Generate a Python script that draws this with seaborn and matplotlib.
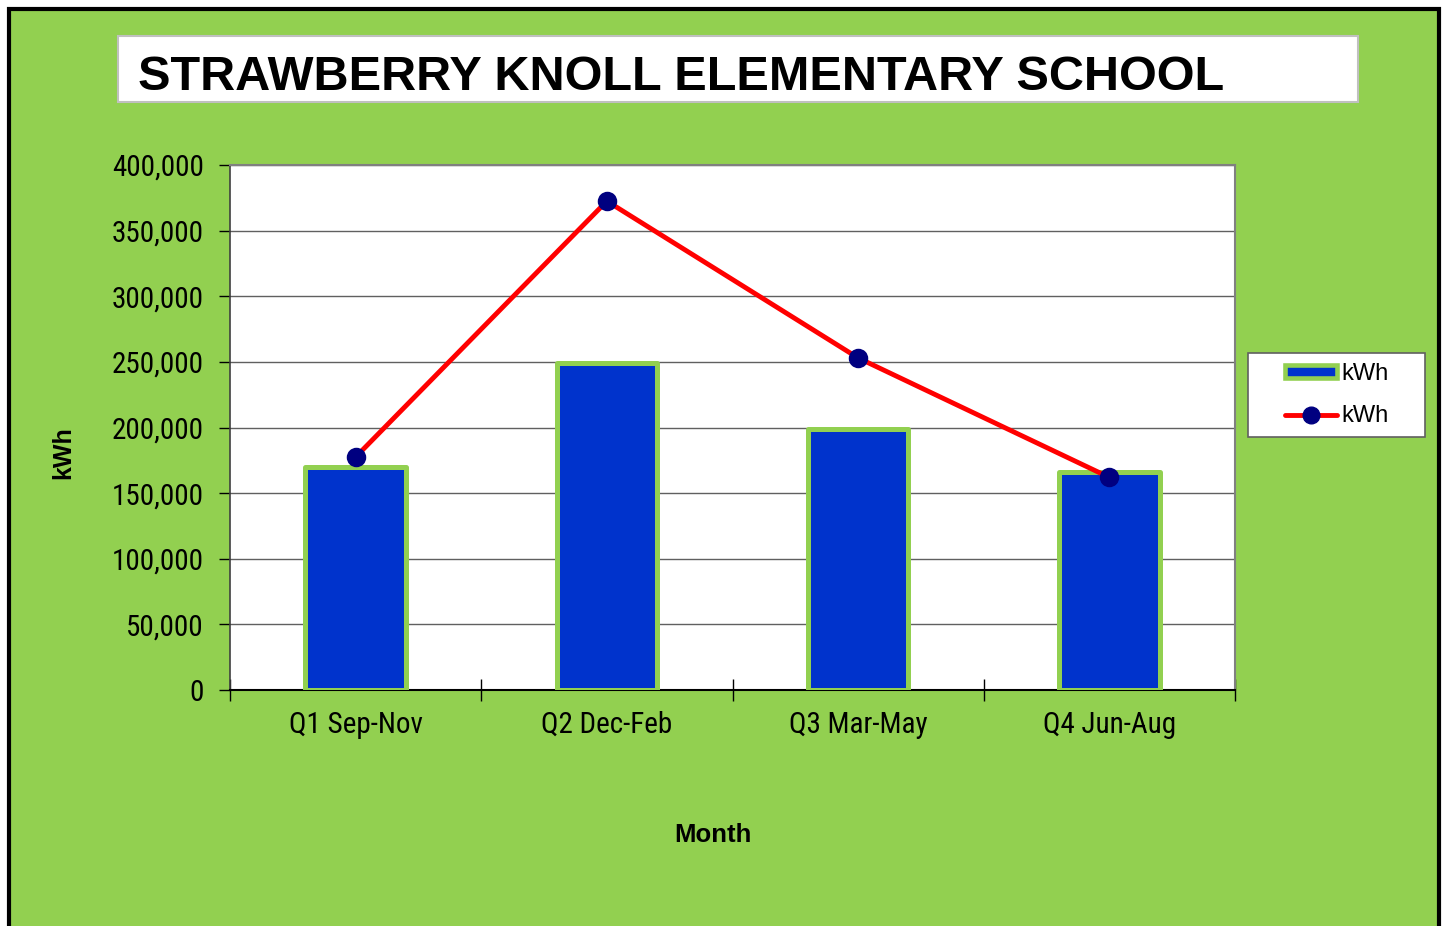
import matplotlib
matplotlib.use("Agg")
import matplotlib.pyplot as plt
import seaborn as sns
import pandas as pd
from matplotlib import font_manager
from matplotlib.patches import Rectangle, Patch
from matplotlib.lines import Line2D
from matplotlib.ticker import FuncFormatter, FixedLocator

# ---- data ----
quarters = ["Q1 Sep-Nov", "Q2 Dec-Feb", "Q3 Mar-May", "Q4 Jun-Aug"]
bar_kwh = [170000, 249000, 199000, 166000]
line_kwh = [177500, 372500, 253000, 162000]
y_ticks = [0, 50000, 100000, 150000, 200000, 250000, 300000, 350000, 400000]
title_text = "STRAWBERRY KNOLL ELEMENTARY SCHOOL"

GREEN = "#92D050"
BLUE = "#0033CC"
RED = "#FF0000"
NAVY = "#000080"

sns.set_theme(style="white")
plt.rcParams["font.family"] = ["Liberation Sans", "DejaVu Sans"]
plt.rcParams["text.color"] = "black"
plt.rcParams["xtick.color"] = "black"
plt.rcParams["ytick.color"] = "black"

# pick a condensed face for tick labels if one is available
installed = {f.name for f in font_manager.fontManager.ttflist}
narrow_face = None
for cand in ["Liberation Sans Narrow", "Arial Narrow", "Roboto Condensed",
             "Open Sans Condensed", "DejaVu Sans Condensed"]:
    if cand in installed:
        narrow_face = cand
        break
if narrow_face:
    TICK_FAMILY = [narrow_face, "Liberation Sans", "DejaVu Sans"]
    TICK_SIZE = 21
    TICK_STRETCH = "condensed" if narrow_face == "DejaVu Sans Condensed" else "normal"
else:
    TICK_FAMILY = ["Liberation Sans", "DejaVu Sans"]
    TICK_SIZE = 18.5
    TICK_STRETCH = "normal"

W, H = 1444, 926
fig = plt.figure(figsize=(W / 100, H / 100), dpi=100, facecolor="white")

# outer green panel with black border
fig.patches.append(Rectangle((9 / W, -0.05), 1430 / W, 1.05 - 9 / H,
                             transform=fig.transFigure, facecolor=GREEN,
                             edgecolor="black", linewidth=3, zorder=0))
# title box
fig.patches.append(Rectangle((118 / W, 1 - 102 / H), 1240 / W, 66 / H,
                             transform=fig.transFigure, facecolor="white",
                             edgecolor="#C0C0C0", linewidth=1.5, zorder=1))
fig.text(138 / W, 1 - 78 / H, title_text, fontsize=35, fontweight="bold",
         ha="left", va="center", color="black", zorder=2)

# legend frame
fig.patches.append(Rectangle((1248 / W, 1 - 437 / H), 177 / W, 84 / H,
                             transform=fig.transFigure, facecolor="white",
                             edgecolor="#606060", linewidth=1.2, zorder=1))

ax = fig.add_axes([230 / W, 1 - 690 / H, 1005 / W, 525 / H])
ax.set_zorder(3)
ax.set_facecolor("white")

df = pd.DataFrame({"quarter": quarters, "bar": bar_kwh, "line": line_kwh})

sns.barplot(data=df, x="quarter", y="bar", ax=ax, color=BLUE, width=0.4,
            edgecolor=GREEN, linewidth=3.6, saturation=1, zorder=3)
for p in ax.patches:
    p.set_facecolor(BLUE)
    p.set_joinstyle("round")

sns.pointplot(data=df, x="quarter", y="line", ax=ax, color=RED,
              markers="o", linestyles="-", zorder=5)
for ln in ax.lines:
    ln.set_linewidth(3.5)
    ln.set_markerfacecolor(NAVY)
    ln.set_markeredgecolor(NAVY)
    ln.set_markersize(12)
    ln.set_zorder(5)

ax.set_xlim(-0.5, 3.5)
ax.set_ylim(0, 400000)
ax.set_yticks(y_ticks)
ax.yaxis.set_major_formatter(FuncFormatter(lambda v, p: f"{int(v):,}"))
ax.grid(axis="y", color="#606060", linewidth=1, zorder=0)
ax.set_axisbelow(True)

ax.tick_params(axis="y", which="major", direction="out", length=8, width=1,
               color="black", labelsize=TICK_SIZE, pad=11, left=True)
ax.tick_params(axis="x", which="major", length=0, labelsize=TICK_SIZE, pad=15)
ax.xaxis.set_minor_locator(FixedLocator([-0.5, 0.5, 1.5, 2.5, 3.5]))
ax.tick_params(axis="x", which="minor", direction="inout", length=16, width=1,
               color="black", bottom=True)
for lbl in ax.get_xticklabels() + ax.get_yticklabels():
    lbl.set_family(TICK_FAMILY)
    lbl.set_stretch(TICK_STRETCH)
    lbl.set_color("black")

for side in ["top", "right"]:
    ax.spines[side].set_color("#808080")
    ax.spines[side].set_linewidth(1.5)
ax.spines["left"].set_color("#404040")
ax.spines["left"].set_linewidth(1.2)
ax.spines["bottom"].set_color("black")
ax.spines["bottom"].set_linewidth(1.5)

ax.set_xlabel("")
ax.set_ylabel("")
fig.text(63 / W, 1 - 453 / H, "kWh", rotation=90, fontsize=18,
         fontweight="bold", ha="center", va="center", color="black")
fig.text(713 / W, 1 - 835 / H, "Month", fontsize=18.5,
         fontweight="bold", ha="center", va="center", color="black")

handles = [
    Patch(facecolor=BLUE, edgecolor=GREEN, linewidth=3.3, joinstyle="round"),
    Line2D([0], [0], color=RED, linewidth=3.5, marker="o", markersize=12,
           markerfacecolor=NAVY, markeredgecolor=NAVY),
]
leg = fig.legend(handles, ["kWh", "kWh"], loc="upper left",
                 bbox_to_anchor=(1285 / W, 1 - 363 / H), fontsize=17,
                 frameon=False, borderpad=0, handlelength=2.2,
                 handleheight=0.45, handletextpad=0.2, labelspacing=0.85,
                 borderaxespad=0, labelcolor="black")
leg.set_zorder(6)

fig.savefig("out.png", dpi=100, facecolor="white")
